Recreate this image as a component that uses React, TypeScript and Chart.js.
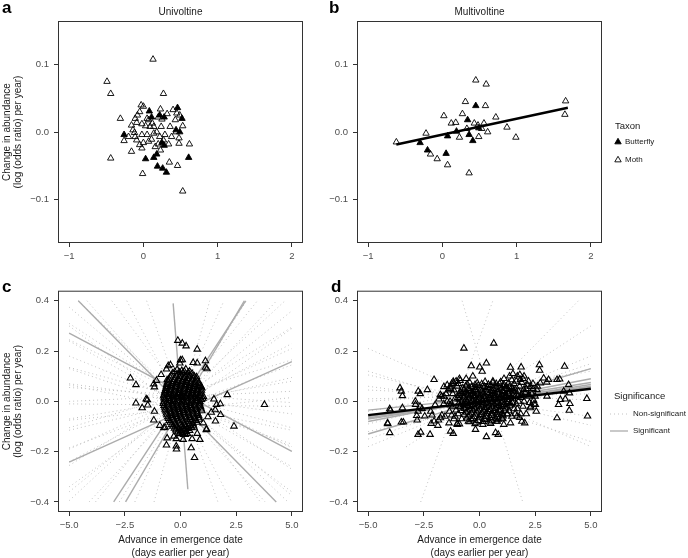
import { useEffect, useRef } from "react";
import { Chart, registerables } from "chart.js";

Chart.register(...registerables);

const FONT = "'Liberation Sans', Arial, Helvetica, sans-serif";
Chart.defaults.font.family = FONT;
Chart.defaults.color = "#4d4d4d";

// ---- a / b : species points, univoltine vs multivoltine ----
const uniMoth = [
  [0.13, 0.108], [-0.49, 0.075], [-0.44, 0.057], [0.27, 0.057], [-0.31, 0.02], [-0.44, -0.039],
  [-0.01, -0.062], [0.53, -0.088], [0.62, -0.018], [0.46, -0.05], [0.35, -0.045], [0.48, -0.017],
  [0.53, 0.009], [0.49, 0.025], [0.4, 0.033], [0.43, 0.018], [0.36, 0.008], [0.38, -0.007],
  [0.29, -0.004], [0.24, 0.008], [0.23, 0.034], [0.25, 0.019], [0.18, 0.0], [0.22, -0.007],
  [0.2, -0.018], [0.23, -0.027], [0.11, -0.011], [0.09, 0.008], [0.05, 0.02], [0.03, 0.009],
  [0.0, 0.038], [-0.03, 0.04], [-0.05, 0.03], [-0.08, 0.025], [-0.11, 0.02], [-0.16, 0.01],
  [-0.09, 0.014], [-0.14, 0.003], [-0.11, -0.007], [-0.09, -0.012], [-0.16, -0.029], [-0.26, -0.013],
  [-0.2, -0.007], [-0.02, -0.024], [0.0, -0.016], [0.07, -0.014], [-0.02, -0.004], [0.05, -0.004],
  [0.14, -0.002], [0.14, 0.008], [0.16, -0.022], [0.27, -0.012], [0.34, -0.018], [0.44, 0.0],
  [0.48, -0.009], [-0.05, -0.019], [0.07, 0.018], [0.12, 0.013], [-0.02, 0.012], [0.32, 0.027],
  [0.45, 0.028], [-0.12, -0.001], [0.2, 0.022],
];
const uniButterfly = [
  [-0.26, -0.004], [0.08, 0.031], [0.11, 0.022], [0.22, 0.025], [0.28, 0.022], [0.46, 0.036],
  [0.52, 0.02], [0.49, 0.0], [0.44, 0.003], [0.25, -0.016], [0.28, -0.02], [0.18, -0.033],
  [0.14, -0.038], [0.03, -0.04], [0.19, -0.051], [0.26, -0.054], [0.31, -0.06], [0.61, -0.038],
];
const multiMoth = [
  [-0.62, -0.015], [-0.22, -0.002], [-0.16, -0.033], [-0.07, -0.04], [0.07, -0.049], [0.36, -0.061],
  [0.45, 0.077], [0.59, 0.071], [0.31, 0.045], [0.58, 0.039], [1.66, 0.046], [1.65, 0.026],
  [0.02, 0.024], [0.27, 0.027], [0.12, 0.013], [0.18, 0.014], [0.72, 0.022], [0.87, 0.007],
  [0.99, -0.008], [0.23, -0.008], [0.33, 0.005], [0.43, 0.013], [0.48, 0.01], [0.56, 0.013],
  [0.53, 0.005], [0.61, 0.0], [0.49, -0.007],
];
const multiButterfly = [
  [-0.3, -0.016], [-0.2, -0.027], [0.05, -0.032], [0.07, -0.006], [0.19, 0.001], [0.34, 0.018],
  [0.45, 0.039], [0.36, -0.004], [0.41, -0.013], [0.49, 0.006],
];
// slope, intercept, x from, x to
const multiFit = [0.0236, -0.0039, -0.62, 1.69];

// ---- c : all species (no voltinism split) ----
const cPoints = [
  [-0.12, 0.242], [0.08, 0.231], [0.25, 0.22], [0.75, 0.207], [0.08, 0.165], [-0.03, 0.152],
  [0.57, 0.154], [0.75, 0.152], [1.12, 0.161], [1.12, 0.135], [-0.55, 0.141], [-0.63, 0.128],
  [-0.87, 0.106], [-2.25, 0.092], [-2.0, 0.066], [-1.2, 0.069], [-1.08, 0.083], [-1.17, 0.057],
  [-2.0, -0.007], [-1.54, 0.009], [-1.72, -0.026], [-1.47, -0.015], [-1.17, -0.04], [-1.2, -0.075],
  [-0.93, -0.096], [-0.7, -0.103], [1.5, 0.009], [1.62, -0.013], [1.8, -0.053], [1.57, -0.079],
  [2.4, -0.099], [2.1, 0.026], [3.77, -0.013], [-0.63, -0.174], [-0.19, -0.149], [-0.19, -0.178],
  [-0.18, -0.19], [-0.3, -0.139], [0.12, -0.152], [0.22, -0.132], [0.52, -0.149], [0.48, -0.185],
  [0.63, -0.224], [0.75, -0.128], [0.87, -0.152], [1.17, -0.11], [1.02, -0.086], [1.23, -0.062],
  [1.38, -0.044], [-1.49, 0.006], [-0.75, -0.105], [-0.6, 0.085], [-0.45, 0.145], [0.0, 0.164],
  [1.19, 0.129], [1.79, -0.01], [1.56, -0.034], [1.16, -0.113], [-0.6, -0.146],
  // dense core
  [-0.15, 0.126], [0.06, 0.122], [0.24, 0.128], [0.41, 0.119],
  [-0.36, 0.112], [-0.12, 0.108], [0.1, 0.113], [0.31, 0.107], [0.52, 0.111],
  [-0.47, 0.096], [-0.26, 0.093], [-0.04, 0.098], [0.16, 0.094], [0.37, 0.097], [0.56, 0.092], [0.72, 0.097],
  [-0.56, 0.081], [-0.34, 0.078], [-0.14, 0.083], [0.06, 0.079], [0.26, 0.082], [0.46, 0.077], [0.66, 0.081], [0.82, 0.076],
  [-0.62, 0.066], [-0.41, 0.063], [-0.21, 0.068], [0.01, 0.064], [0.21, 0.067], [0.41, 0.062], [0.61, 0.066], [0.86, 0.063],
  [-0.66, 0.051], [-0.46, 0.048], [-0.24, 0.053], [-0.04, 0.049], [0.16, 0.052], [0.36, 0.047], [0.56, 0.051], [0.76, 0.048], [0.96, 0.053],
  [-0.71, 0.036], [-0.51, 0.033], [-0.29, 0.037], [-0.09, 0.034], [0.11, 0.038], [0.31, 0.032], [0.51, 0.036], [0.71, 0.033], [0.91, 0.037],
  [-0.76, 0.021], [-0.54, 0.018], [-0.34, 0.022], [-0.14, 0.019], [0.06, 0.023], [0.26, 0.017], [0.46, 0.021], [0.66, 0.018], [0.86, 0.022], [1.03, 0.019],
  [-0.72, 0.006], [-0.49, 0.003], [-0.31, 0.007], [-0.09, 0.004], [0.11, 0.008], [0.29, 0.002], [0.51, 0.006], [0.69, 0.003], [0.94, 0.007],
  [-0.77, -0.009], [-0.56, -0.012], [-0.36, -0.008], [-0.16, -0.011], [0.04, -0.007], [0.24, -0.013], [0.44, -0.009], [0.64, -0.012], [0.86, -0.008],
  [-0.71, -0.024], [-0.49, -0.027], [-0.29, -0.023], [-0.11, -0.026], [0.09, -0.022], [0.31, -0.028], [0.49, -0.024], [0.71, -0.027], [0.91, -0.023],
  [-0.66, -0.039], [-0.44, -0.042], [-0.26, -0.038], [-0.06, -0.041], [0.16, -0.037], [0.34, -0.043], [0.56, -0.039], [0.74, -0.042], [0.96, -0.038],
  [-0.61, -0.054], [-0.39, -0.057], [-0.21, -0.053], [0.01, -0.056], [0.19, -0.052], [0.41, -0.058], [0.59, -0.054], [0.81, -0.057],
  [-0.54, -0.069], [-0.36, -0.072], [-0.14, -0.068], [0.04, -0.071], [0.26, -0.067], [0.44, -0.073], [0.66, -0.069], [0.84, -0.072],
  [-0.46, -0.084], [-0.24, -0.087], [-0.06, -0.083], [0.16, -0.086], [0.34, -0.082], [0.56, -0.088], [0.74, -0.084],
  [-0.34, -0.099], [-0.16, -0.102], [0.06, -0.098], [0.24, -0.101], [0.46, -0.097], [0.61, -0.103],
  [-0.21, -0.114], [0.01, -0.117], [0.19, -0.113], [0.41, -0.116],
  [-0.04, -0.129], [0.14, -0.132], [0.31, -0.128],
  [-0.26, 0.118], [-0.04, 0.116], [0.17, 0.119], [0.35, 0.115],
  [-0.42, 0.103], [-0.2, 0.101], [0.0, 0.104], [0.21, 0.1], [0.42, 0.103], [0.62, 0.1],
  [-0.52, 0.088], [-0.3, 0.086], [-0.09, 0.089], [0.11, 0.087], [0.31, 0.09], [0.51, 0.085], [0.71, 0.088],
  [-0.6, 0.073], [-0.39, 0.071], [-0.18, 0.074], [0.03, 0.072], [0.23, 0.075], [0.44, 0.07], [0.64, 0.073], [0.84, 0.071],
  [-0.64, 0.058], [-0.44, 0.056], [-0.22, 0.059], [-0.02, 0.057], [0.19, 0.06], [0.39, 0.055], [0.59, 0.058], [0.79, 0.056], [0.92, 0.059],
  [-0.69, 0.043], [-0.48, 0.041], [-0.27, 0.044], [-0.06, 0.042], [0.14, 0.045], [0.34, 0.04], [0.54, 0.043], [0.74, 0.041], [0.94, 0.044],
  [-0.73, 0.028], [-0.52, 0.026], [-0.31, 0.029], [-0.11, 0.027], [0.09, 0.03], [0.29, 0.025], [0.49, 0.028], [0.69, 0.026], [0.89, 0.029],
  [-0.74, 0.013], [-0.53, 0.011], [-0.32, 0.014], [-0.12, 0.012], [0.08, 0.015], [0.28, 0.01], [0.48, 0.013], [0.68, 0.011], [0.88, 0.014], [1.0, 0.012],
  [-0.75, -0.002], [-0.54, -0.004], [-0.33, -0.001], [-0.13, -0.003], [0.07, 0.0], [0.27, -0.005], [0.47, -0.002], [0.67, -0.004], [0.87, -0.001],
  [-0.74, -0.017], [-0.52, -0.019], [-0.32, -0.016], [-0.13, -0.018], [0.07, -0.015], [0.27, -0.02], [0.47, -0.017], [0.67, -0.019], [0.88, -0.016],
  [-0.69, -0.032], [-0.47, -0.034], [-0.27, -0.031], [-0.08, -0.033], [0.12, -0.03], [0.32, -0.035], [0.52, -0.032], [0.72, -0.034], [0.93, -0.031],
  [-0.63, -0.047], [-0.42, -0.049], [-0.23, -0.046], [-0.03, -0.048], [0.17, -0.045], [0.37, -0.05], [0.57, -0.047], [0.77, -0.049],
  [-0.57, -0.062], [-0.37, -0.064], [-0.17, -0.061], [0.03, -0.063], [0.23, -0.06], [0.43, -0.065], [0.63, -0.062], [0.83, -0.064],
  [-0.5, -0.077], [-0.3, -0.079], [-0.1, -0.076], [0.1, -0.078], [0.3, -0.075], [0.5, -0.08], [0.7, -0.077],
  [-0.4, -0.092], [-0.2, -0.094], [0.0, -0.091], [0.2, -0.093], [0.4, -0.09], [0.58, -0.095],
  [-0.27, -0.107], [-0.07, -0.109], [0.13, -0.106], [0.33, -0.108], [0.5, -0.105],
  [-0.12, -0.122], [0.08, -0.124], [0.26, -0.121],
];
// per-species fits in c, non-significant (dotted)
const cNsSlope = [-0.25, -0.17, -0.12, -0.1, -0.085, -0.075, -0.066, -0.058, -0.05, -0.043, -0.036, -0.03,
  -0.024, -0.018, -0.012, -0.006, -0.001, 0.004, 0.009, 0.015, 0.021, 0.027, 0.033, 0.04, 0.047, 0.055,
  0.063, 0.072, 0.082, 0.095, 0.11, 0.14, 0.2, 0.32];
const cNsIcpt = [0.02, -0.01, 0.03, -0.02, 0.01, 0.0, -0.03, 0.02, -0.01, 0.03, 0.0, -0.02, 0.015, -0.025,
  0.01, 0.025, -0.015, 0.02, -0.03, 0.005, -0.01, 0.03, -0.02, 0.01, -0.005, 0.02, -0.025, 0.0, 0.015,
  -0.01, 0.02, -0.015, 0.01, -0.02];
// significant (solid)
const cSigSlope = [-0.09, -0.047, 0.04, 0.135, 0.15, -1.12];
const cSigIcpt = [-0.013, 0.036, -0.042, 0.005, -0.03, 0.02];
const cSigFrom = [-5, -5, -5, -5, -5, -0.33];
const cSigTo = [5, 5, 5, 5, 5, 0.33];

// ---- d : controlling for voltinism ----
const dPoints = [
  [0.64, 0.231], [-0.7, 0.211], [-0.37, 0.141], [0.01, 0.136], [0.31, 0.152], [0.12, 0.119],
  [1.39, 0.135], [1.87, 0.136], [1.81, 0.106], [2.69, 0.145], [2.7, 0.123], [3.82, 0.139],
  [3.48, 0.086], [3.6, 0.088], [4.0, 0.066], [3.1, 0.086], [2.88, 0.092], [3.78, 0.04],
  [3.85, 0.009], [3.63, 0.007], [4.04, 0.033], [4.82, 0.011], [3.55, -0.013], [3.48, -0.066],
  [4.03, -0.036], [4.85, -0.059], [3.03, 0.02], [2.58, 0.046], [2.73, 0.073], [2.03, -0.086],
  [1.69, -0.059], [-3.57, 0.053], [-3.51, 0.04], [-3.46, 0.022], [-3.46, -0.026], [-3.51, -0.083],
  [-3.42, -0.083], [-4.13, -0.086], [-4.03, -0.125], [-4.03, -0.03], [-2.76, -0.132], [-2.64, -0.123],
  [-2.22, -0.132], [-2.75, 0.04], [-2.34, 0.046], [-2.04, 0.086], [-2.87, -0.013], [-2.67, -0.02],
  [-2.76, -0.04], [-2.82, -0.057], [-2.46, -0.059], [-2.19, -0.04], [-2.04, -0.079], [-1.87, -0.096],
  [-1.75, -0.066], [-1.3, -0.119], [-1.18, -0.128], [-1.37, -0.086], [-1.0, -0.092], [-1.6, 0.02],
  [-1.82, 0.009], [-1.3, 0.057], [-1.18, 0.079], [-0.18, -0.112], [0.31, -0.141], [0.72, -0.125],
  [0.84, -0.132], [1.09, -0.092], [1.39, -0.086], [2.28, -0.026], [2.43, 0.004], [2.51, -0.013],
  [2.21, 0.026], [1.99, 0.046], [2.28, 0.059], [1.84, 0.086], [-4.0, -0.036], [-4.12, -0.089],
  [-2.66, 0.03], [-2.88, 0.0], [-2.58, -0.029], [-2.8, -0.075], [-2.17, -0.088], [-2.13, -0.055],
  [-1.84, -0.075], [-1.69, -0.055], [-1.0, -0.088], [-1.76, 0.026], [-1.6, 0.058], [-1.17, 0.072],
  [-0.87, 0.083], [-1.32, 0.0], [-1.99, -0.014], [3.02, 0.076], [4.06, -0.009], [2.2, 0.08],
  [2.4, 0.07], [2.0, 0.1],
  // fringe
  [-1.5, 0.03], [-1.3, 0.05], [-1.2, -0.02], [-1.1, 0.01], [-1.0, 0.06], [-0.95, -0.05], [-1.35, -0.04],
  [-1.6, -0.01], [-1.45, 0.0], [-1.05, 0.08], [-0.9, 0.03], [-0.85, -0.02], [-1.25, 0.07], [-1.7, 0.02],
  [-1.55, -0.06], [-0.8, -0.07], [-1.15, -0.07], [-0.9, 0.09], [-0.6, 0.09], [-0.3, 0.1], [-0.5, -0.08],
  [-0.9, -0.09], [1.2, 0.06], [1.3, 0.03], [1.4, -0.01], [1.5, 0.05], [1.6, 0.02], [1.7, -0.03],
  [1.8, 0.06], [1.9, 0.03], [2.0, 0.0], [2.1, 0.05], [1.25, -0.05], [1.45, -0.06], [1.65, 0.08],
  [1.85, -0.05], [2.2, 0.02], [2.3, -0.02], [2.4, 0.05], [1.1, 0.09], [1.35, 0.1], [1.55, -0.03],
  [1.75, 0.0], [1.95, 0.09], [1.05, -0.07], [0.8, -0.08], [0.6, 0.08], [0.9, 0.07], [1.2, 0.02],
  [2.5, 0.02], [2.6, 0.06], [2.55, -0.04], [1.5, 0.11], [1.9, -0.08],
  [-1.4, 0.045], [-1.2, 0.03], [-1.05, -0.035], [-1.3, -0.015], [-1.15, 0.045], [-0.98, 0.015],
  [-1.25, -0.055], [-1.45, 0.065], [-1.1, -0.06], [-0.95, 0.07], [1.55, 0.07], [1.65, -0.01],
  [1.75, 0.04], [1.85, 0.015], [1.95, -0.02], [2.05, 0.035], [2.15, 0.065], [2.25, -0.005],
  [1.6, -0.05], [1.8, -0.065], [2.35, 0.03], [1.7, 0.1], [2.1, -0.05], [2.45, -0.01], [1.45, 0.085],
  [1.6, 0.045], [1.72, 0.02], [1.9, 0.075],
  // dense core
  [-0.45, 0.076], [-0.1, 0.073], [0.25, 0.078], [0.6, 0.074], [0.95, 0.077], [1.3, 0.072],
  [-0.62, 0.061], [-0.34, 0.058], [-0.06, 0.063], [0.22, 0.059], [0.5, 0.062], [0.78, 0.057], [1.06, 0.061], [1.34, 0.058],
  [-0.7, 0.046], [-0.46, 0.043], [-0.21, 0.047], [0.04, 0.044], [0.29, 0.048], [0.54, 0.043], [0.79, 0.046], [1.04, 0.042], [1.29, 0.047],
  [-0.76, 0.031], [-0.52, 0.028], [-0.29, 0.032], [-0.06, 0.029], [0.17, 0.033], [0.4, 0.028], [0.63, 0.031], [0.86, 0.027], [1.09, 0.032], [1.32, 0.029],
  [-0.72, 0.016], [-0.49, 0.013], [-0.26, 0.017], [-0.03, 0.014], [0.2, 0.018], [0.43, 0.012], [0.66, 0.016], [0.89, 0.013], [1.12, 0.017], [1.4, 0.014],
  [-0.78, 0.001], [-0.55, -0.002], [-0.32, 0.002], [-0.09, -0.001], [0.14, 0.003], [0.37, -0.003], [0.6, 0.001], [0.83, -0.002], [1.06, 0.002], [1.29, -0.001],
  [-0.73, -0.014], [-0.5, -0.017], [-0.27, -0.013], [-0.04, -0.016], [0.19, -0.012], [0.42, -0.018], [0.65, -0.014], [0.88, -0.017], [1.11, -0.013], [1.36, -0.016],
  [-0.68, -0.029], [-0.44, -0.032], [-0.21, -0.028], [0.02, -0.031], [0.25, -0.027], [0.48, -0.033], [0.71, -0.029], [0.94, -0.032], [1.17, -0.028],
  [-0.6, -0.044], [-0.36, -0.047], [-0.13, -0.043], [0.1, -0.046], [0.33, -0.042], [0.56, -0.048], [0.79, -0.044], [1.02, -0.047],
  [-0.5, -0.059], [-0.24, -0.062], [0.02, -0.058], [0.28, -0.061], [0.54, -0.057], [0.8, -0.063], [1.06, -0.059],
  [-0.35, -0.074], [-0.05, -0.077], [0.25, -0.073], [0.55, -0.076], [0.85, -0.072],
  [-0.2, -0.089], [0.15, -0.092], [0.5, -0.088],
  [-0.55, 0.068], [-0.2, 0.066], [0.1, 0.069], [0.4, 0.067], [0.75, 0.07], [1.1, 0.066],
  [-0.75, 0.053], [-0.48, 0.051], [-0.2, 0.054], [0.08, 0.052], [0.36, 0.055], [0.64, 0.05], [0.92, 0.053], [1.2, 0.051], [1.45, 0.054],
  [-0.88, 0.038], [-0.62, 0.036], [-0.38, 0.039], [-0.14, 0.037], [0.1, 0.04], [0.34, 0.035], [0.58, 0.038], [0.82, 0.036], [1.06, 0.039], [1.3, 0.037], [1.52, 0.04],
  [-0.9, 0.023], [-0.64, 0.021], [-0.4, 0.024], [-0.17, 0.022], [0.06, 0.025], [0.29, 0.02], [0.52, 0.023], [0.75, 0.021], [0.98, 0.024], [1.21, 0.022], [1.5, 0.025],
  [-0.9, 0.008], [-0.61, 0.006], [-0.38, 0.009], [-0.15, 0.007], [0.08, 0.01], [0.31, 0.005], [0.54, 0.008], [0.77, 0.006], [1.0, 0.009], [1.23, 0.007], [1.5, 0.01],
  [-0.92, -0.007], [-0.62, -0.009], [-0.39, -0.006], [-0.16, -0.008], [0.07, -0.005], [0.3, -0.01], [0.53, -0.007], [0.76, -0.009], [0.99, -0.006], [1.22, -0.008], [1.48, -0.005],
  [-0.88, -0.022], [-0.6, -0.024], [-0.37, -0.021], [-0.14, -0.023], [0.09, -0.02], [0.32, -0.025], [0.55, -0.022], [0.78, -0.024], [1.01, -0.021], [1.25, -0.023],
  [-0.8, -0.037], [-0.54, -0.039], [-0.3, -0.036], [-0.06, -0.038], [0.18, -0.035], [0.42, -0.04], [0.66, -0.037], [0.9, -0.039], [1.12, -0.036], [1.32, -0.038],
  [-0.7, -0.052], [-0.44, -0.054], [-0.2, -0.051], [0.06, -0.053], [0.3, -0.05], [0.56, -0.055], [0.8, -0.052], [1.04, -0.054], [1.24, -0.051],
  [-0.58, -0.067], [-0.3, -0.069], [-0.04, -0.066], [0.22, -0.068], [0.48, -0.065], [0.74, -0.07], [1.0, -0.067],
  [-0.45, -0.082], [-0.15, -0.084], [0.15, -0.081], [0.45, -0.083], [0.75, -0.08],
];
const dNsSlope = [-0.294, 0.247, 0.058, 0.09, -0.039, 0.036, 0.03, -0.02, 0.006, -0.004, 0.002, 0.016,
  0.022, 0.012, -0.012, 0.018, -0.028];
const dNsIcpt = [0.17, 0.252, 0.01, 0.0, 0.015, 0.0, 0.0, 0.005, 0.03, 0.025, 0.02, 0.04, 0.02, -0.01,
  0.0, -0.03, -0.02];
const dNsFrom = [-5, -5, -3.3, 0, -5, -5, -5, -5, -5, -5, -5, -5, -5, -5, -5, -5, -5];
const dSigSlope = [0.026, 0.017, 0.0141, 0.0137, 0.0091, 0.012];
const dSigIcpt = [0.0, 0.005, 0.0045, -0.0015, 0.0105, 0.0];
// overall model across species
const dOverall = [0.0105, -0.0025, -5, 5];

// ---- axis ticks ----
const abXTicks = [-1, 0, 1, 2];
const abYTicks = [-0.1, 0, 0.1];
const cdXTicks = [-5, -2.5, 0, 2.5, 5];
const cdYTicks = [-0.4, -0.2, 0, 0.2, 0.4];

type XY = { x: number; y: number };
const toXY = (pairs: number[][]): XY[] => pairs.map(([x, y]) => ({ x, y }));

// fitted line between two x values, cut at the y limits
function fitSegment(slope: number, icpt: number, from: number, to: number, lim = 0.4): XY[] {
  let a = from;
  let b = to;
  if (slope !== 0) {
    const xa = (-lim - icpt) / slope;
    const xb = (lim - icpt) / slope;
    a = Math.max(a, Math.min(xa, xb));
    b = Math.min(b, Math.max(xa, xb));
  }
  return [{ x: a, y: slope * a + icpt }, { x: b, y: slope * b + icpt }];
}

const minus = (s: string) => s.replace("-", "\u2212");
const fmt1 = (v: number) => minus(v.toFixed(1));
const fmt0 = (v: number) => minus(v.toFixed(0));

const NS_COLOR = "#c2c2c2";
const SIG_COLOR = "#acacac";

const triangles = (pairs: number[][], filled: boolean, bw = 0.9) => ({
  data: toXY(pairs),
  pointStyle: "triangle",
  pointRadius: 3.7,
  pointBorderWidth: bw,
  borderColor: "#000",
  pointBorderColor: "#000",
  pointBackgroundColor: filled ? "#000" : "rgba(0,0,0,0)",
  backgroundColor: filled ? "#000" : "rgba(0,0,0,0)",
  order: 1,
});

const lineSet = (pts: XY[], color: string, width: number, dash: number[], order: number) => ({
  data: pts,
  showLine: true,
  borderColor: color,
  borderWidth: width,
  borderDash: dash,
  pointRadius: 0,
  order,
});

const decoPlugin = {
  id: "deco",
  afterDraw(chart: any, _args: any, o: any) {
    const { ctx, chartArea: a } = chart;
    ctx.save();
    ctx.strokeStyle = "#333";
    ctx.lineWidth = 1;
    ctx.setLineDash([]);
    ctx.strokeRect(a.left + 0.5, a.top + 0.5, a.right - a.left - 1, a.bottom - a.top - 1);

    ctx.fillStyle = "#000";
    ctx.textAlign = "left";
    ctx.textBaseline = "alphabetic";
    ctx.font = `bold 17px ${FONT}`;
    ctx.fillText(o.letter, o.lx, o.ly);

    ctx.fillStyle = "#1a1a1a";
    ctx.textBaseline = "middle";
    if (o.title) {
      ctx.font = `10px ${FONT}`;
      ctx.textAlign = "center";
      ctx.fillText(o.title, (a.left + a.right) / 2, 12);
      ctx.textAlign = "left";
    }
    if (o.legend === "taxon") {
      ctx.font = `9.5px ${FONT}`;
      ctx.fillText("Taxon", 305, 126);
      ctx.font = `8px ${FONT}`;
      const keys: [string, number, boolean][] = [["Butterfly", 142, true], ["Moth", 160, false]];
      keys.forEach(([label, y, filled]) => {
        const r = 3.7;
        ctx.beginPath();
        ctx.moveTo(308, y - r);
        ctx.lineTo(308 + r * 0.866, y + r / 2);
        ctx.lineTo(308 - r * 0.866, y + r / 2);
        ctx.closePath();
        ctx.lineWidth = 0.9;
        ctx.strokeStyle = "#000";
        if (filled) {
          ctx.fillStyle = "#000";
          ctx.fill();
        }
        ctx.stroke();
        ctx.fillStyle = "#1a1a1a";
        ctx.fillText(label, 315, y);
      });
    }
    if (o.legend === "significance") {
      ctx.font = `9.5px ${FONT}`;
      ctx.fillText("Significance", 304, 116);
      ctx.font = `8px ${FONT}`;
      ctx.lineWidth = 1;
      ctx.strokeStyle = NS_COLOR;
      ctx.setLineDash([1, 3]);
      ctx.beginPath();
      ctx.moveTo(300, 134);
      ctx.lineTo(318, 134);
      ctx.stroke();
      ctx.setLineDash([]);
      ctx.strokeStyle = SIG_COLOR;
      ctx.lineWidth = 1.3;
      ctx.beginPath();
      ctx.moveTo(300, 151);
      ctx.lineTo(318, 151);
      ctx.stroke();
      ctx.fillText("Non-significant", 323, 134);
      ctx.fillText("Significant", 323, 151);
    }
    ctx.restore();
  },
};

interface PanelSpec {
  xRange: number[];
  yRange: number[];
  xTicks: number[];
  yTicks: number[];
  xFmt: (v: number) => string;
  yFmt: (v: number) => string;
  padTop: number;
  padRight: number;
  yW: number;
  xH: number;
  yTitle: boolean;
  xTitle: boolean;
  deco: Record<string, unknown>;
}

function makeConfig(datasets: any[], p: PanelSpec): any {
  const grid = { display: true, drawOnChartArea: false, drawTicks: true, tickLength: 4, color: "#333", lineWidth: 1 };
  return {
    type: "scatter",
    data: { datasets },
    plugins: [decoPlugin],
    options: {
      animation: false,
      responsive: false,
      events: [],
      layout: { padding: { top: p.padTop, right: p.padRight, left: 0, bottom: 0 } },
      plugins: { legend: { display: false }, tooltip: { enabled: false }, deco: p.deco },
      scales: {
        x: {
          type: "linear",
          min: p.xRange[0],
          max: p.xRange[1],
          afterBuildTicks: (s: any) => { s.ticks = p.xTicks.map((value) => ({ value })); },
          afterFit: (s: any) => { s.height = p.xH; },
          grid,
          border: { display: false },
          ticks: { color: "#4d4d4d", font: { size: 9.5 }, padding: 4, maxRotation: 0, autoSkip: false, callback: (v: any) => p.xFmt(Number(v)) },
          title: {
            display: p.xTitle,
            text: ["Advance in emergence date", "(days earlier per year)"],
            color: "#1a1a1a",
            font: { size: 10, lineHeight: 1.3 },
            padding: { top: 0, bottom: 1.5 },
          },
        },
        y: {
          type: "linear",
          min: p.yRange[0],
          max: p.yRange[1],
          afterBuildTicks: (s: any) => { s.ticks = p.yTicks.map((value) => ({ value })); },
          afterFit: (s: any) => { s.width = p.yW; },
          grid,
          border: { display: false },
          ticks: { color: "#4d4d4d", font: { size: 9.5 }, padding: 5, autoSkip: false, callback: (v: any) => p.yFmt(Number(v)) },
          title: {
            display: p.yTitle,
            text: ["Change in abundance", "(log (odds ratio) per year)"],
            color: "#1a1a1a",
            font: { size: 10, lineHeight: 1.15 },
            padding: { top: 1, bottom: 0 },
          },
        },
      },
    },
  };
}

const abBase = {
  xRange: [-1.15, 2.15], yRange: [-0.165, 0.165], xTicks: abXTicks, yTicks: abYTicks,
  xFmt: fmt0, yFmt: fmt1, padTop: 21, xH: 37, xTitle: false,
};
// lower row canvases run 3px past the page bottom so the two-line x title sits low enough
const cdBase = {
  xRange: [-5.5, 5.5], yRange: [-0.44, 0.44], xTicks: cdXTicks, yTicks: cdYTicks,
  xFmt: fmt1, yFmt: fmt1, padTop: 10, xH: 49, xTitle: true,
};

const buildA = () =>
  makeConfig(
    [triangles(uniButterfly, true), triangles(uniMoth, false)],
    { ...abBase, padRight: 27, yW: 58, yTitle: true, deco: { letter: "a", lx: 2, ly: 13, title: "Univoltine" } },
  );

const buildB = () =>
  makeConfig(
    [
      lineSet(fitSegment(multiFit[0], multiFit[1], multiFit[2], multiFit[3], 1), "#000", 2.4, [], 0),
      triangles(multiButterfly, true),
      triangles(multiMoth, false),
    ],
    { ...abBase, padRight: 86, yW: 47, yTitle: false, deco: { letter: "b", lx: 19, ly: 13, title: "Multivoltine", legend: "taxon" } },
  );

const buildC = () =>
  makeConfig(
    [
      triangles(cPoints, false, 1.1),
      ...cSigSlope.map((s, i) => lineSet(fitSegment(s, cSigIcpt[i], cSigFrom[i], cSigTo[i]), SIG_COLOR, 1.4, [], 2)),
      ...cNsSlope.map((s, i) => lineSet(fitSegment(s, cNsIcpt[i], -5, 5), NS_COLOR, 1, [1, 3], 3)),
    ],
    { ...cdBase, padRight: 27, yW: 58, yTitle: true, deco: { letter: "c", lx: 2, ly: 12 } },
  );

const buildD = () =>
  makeConfig(
    [
      lineSet(fitSegment(dOverall[0], dOverall[1], dOverall[2], dOverall[3]), "#000", 2.4, [], 0),
      triangles(dPoints, false, 1.1),
      ...dSigSlope.map((s, i) => lineSet(fitSegment(s, dSigIcpt[i], -5, 5), SIG_COLOR, 1.4, [], 2)),
      ...dNsSlope.map((s, i) => lineSet(fitSegment(s, dNsIcpt[i], dNsFrom[i], 5), NS_COLOR, 1, [1, 3], 3)),
    ],
    { ...cdBase, padRight: 86, yW: 47, yTitle: false, deco: { letter: "d", lx: 21, ly: 12, legend: "significance" } },
  );

interface PanelProps {
  left: number;
  top: number;
  width: number;
  height: number;
  build: () => any;
}

function Panel({ left, top, width, height, build }: PanelProps) {
  const canvasRef = useRef<HTMLCanvasElement>(null);

  useEffect(() => {
    if (!canvasRef.current) return;
    const chart = new Chart(canvasRef.current, build());
    return () => {
      chart.destroy();
    };
  }, [build]);

  return (
    <canvas
      ref={canvasRef}
      width={width}
      height={height}
      style={{ position: "absolute", left, top, width, height }}
    />
  );
}

export default function App() {
  return (
    <div style={{ position: "absolute", left: 0, top: 0, width: 688, height: 558, overflow: "hidden", background: "#fff" }}>
      <Panel left={0} top={0} width={330} height={280} build={buildA} />
      <Panel left={310} top={0} width={378} height={280} build={buildB} />
      <Panel left={0} top={280} width={330} height={281} build={buildC} />
      <Panel left={310} top={280} width={378} height={281} build={buildD} />
    </div>
  );
}
